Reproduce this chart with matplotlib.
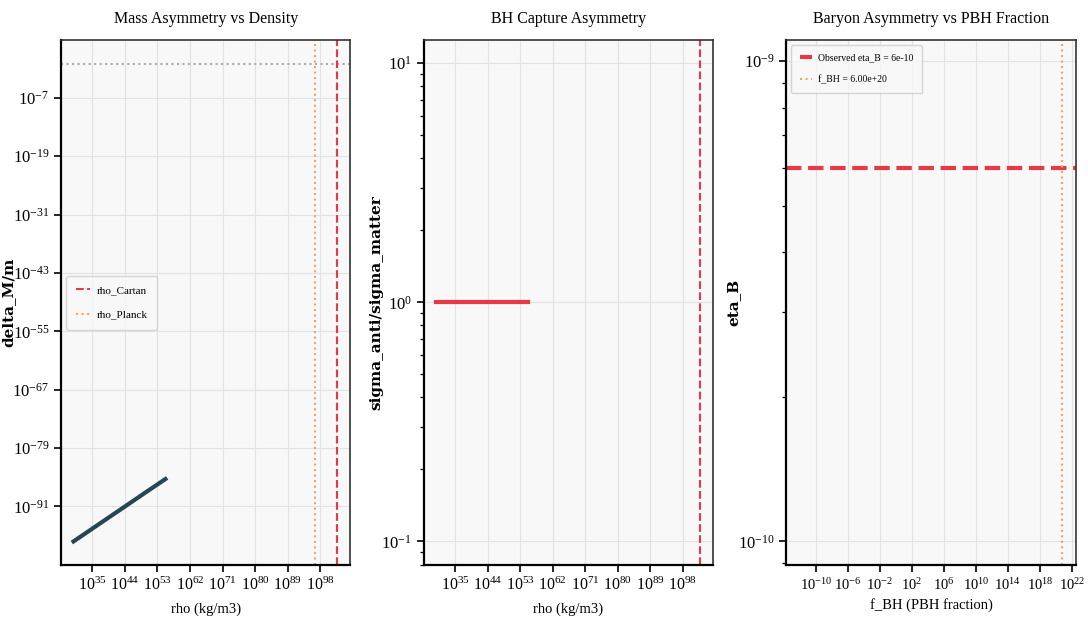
import numpy as np
import matplotlib
matplotlib.use("Agg")
import matplotlib.pyplot as plt
from matplotlib.ticker import NullLocator, NullFormatter, LogLocator

# data
rho_vals = [6e29, 1e35, 1e40, 1e45, 1e50, 1.6e55]          # kg/m3
delta_m = [6e-99, 2.6e-96, 8.7e-94, 2.9e-91, 1e-88, 4e-86]  # delta_M/m
sigma_ratio = [1.0, 1.0, 1.0, 1.0, 1.0, 1.0]                # sigma_anti/sigma_matter
rho_cartan = 5e102
rho_planck = 5.16e96
eta_obs = 6e-10
f_bh = 6.0e20

x1_ticks = [1e35, 1e44, 1e53, 1e62, 1e71, 1e80, 1e89, 1e98]
y1_ticks = [1e-91, 1e-79, 1e-67, 1e-55, 1e-43, 1e-31, 1e-19, 1e-7]
x3_ticks = [1e-10, 1e-6, 1e-2, 1e2, 1e6, 1e10, 1e14, 1e18, 1e22]

RED = "#e63946"
ORANGE = "#f4a261"
DARK = "#264653"

plt.rcParams.update({
    "font.family": ["Liberation Serif", "DejaVu Serif"],
    "mathtext.fontset": "custom",
    "mathtext.rm": "Liberation Serif",
    "mathtext.it": "Liberation Serif:italic",
    "mathtext.bf": "Liberation Serif:bold",
    "axes.facecolor": "#f8f8f8",
    "xtick.labelsize": 11.5,
    "ytick.labelsize": 12,
})

fig, axes = plt.subplots(1, 3, figsize=(10.88, 6.35), dpi=100)
fig.subplots_adjust(left=0.056, right=0.989, bottom=0.11, top=0.937, wspace=0.253)


def style(ax):
    ax.grid(True, which="major", color="#e2e2e2", linewidth=0.8)
    ax.set_axisbelow(True)
    for side in ["top", "right"]:
        ax.spines[side].set_color("#333333")
        ax.spines[side].set_linewidth(1.2)
    for side in ["left", "bottom"]:
        ax.spines[side].set_color("black")
        ax.spines[side].set_linewidth(1.6)
    ax.tick_params(which="major", length=5, width=1.2, direction="out")
    ax.tick_params(which="minor", length=3, width=0.9, direction="out")


ylab = dict(family="DejaVu Serif", fontsize=11, fontweight="bold")
leg_kw = dict(handlelength=1.2, handletextpad=0.6, labelspacing=1.3, borderpad=0.9)

# panel 1: mass asymmetry
ax = axes[0]
ax.loglog(rho_vals, delta_m, color=DARK, lw=3)
ax.axhline(1.0, color="#aaaaaa", ls=":", lw=1.5)
ax.axvline(rho_cartan, color=RED, ls="--", lw=1.5, label="rho_Cartan")
ax.axvline(rho_planck, color=ORANGE, ls=":", lw=1.5, label="rho_Planck")
ax.set_xlim(10**26.3, 10**106.4)
ax.set_ylim(10**-103.1, 10**4.9)
ax.set_xticks(x1_ticks)
ax.set_yticks(y1_ticks)
ax.xaxis.set_minor_locator(NullLocator())
ax.yaxis.set_minor_locator(NullLocator())
ax.set_title("Mass Asymmetry vs Density", fontsize=11.5, pad=12)
ax.set_xlabel("rho (kg/m3)", fontsize=10.5, labelpad=6)
ax.set_ylabel("delta_M/m", **ylab)
ax.yaxis.set_label_coords(-0.156, 0.5)
ax.legend(loc="center left", fontsize=8, **leg_kw)
style(ax)

# panel 2: capture asymmetry
ax = axes[1]
ax.loglog(rho_vals, sigma_ratio, color=RED, lw=3)
ax.axvline(rho_cartan, color=RED, ls="--", lw=1.5)
ax.set_xlim(10**26.3, 10**106.4)
ax.set_ylim(0.0796, 12.5)
ax.set_xticks(x1_ticks)
ax.xaxis.set_minor_locator(NullLocator())
ax.yaxis.set_minor_locator(LogLocator(base=10, subs=np.arange(2, 10)))
ax.yaxis.set_minor_formatter(NullFormatter())
ax.set_title("BH Capture Asymmetry", fontsize=11.5, pad=12)
ax.set_xlabel("rho (kg/m3)", fontsize=10.5, labelpad=6)
ax.set_ylabel("sigma_anti/sigma_matter", **ylab)
ax.yaxis.set_label_coords(-0.138, 0.5)
style(ax)

# panel 3: baryon asymmetry
ax = axes[2]
ax.set_xscale("log")
ax.set_yscale("log")
ax.axhline(eta_obs, color=RED, ls="--", lw=3, label="Observed eta_B = 6e-10")
ax.axvline(f_bh, color=ORANGE, ls=":", lw=1.5, label=f"f_BH = {f_bh:.2e}")
ax.set_xlim(10**-13.65, 10**22.5)
ax.set_ylim(8.92e-11, 1.106e-9)
ax.set_xticks(x3_ticks)
ax.xaxis.set_minor_locator(NullLocator())
ax.yaxis.set_minor_locator(LogLocator(base=10, subs=np.arange(2, 10)))
ax.yaxis.set_minor_formatter(NullFormatter())
ax.tick_params(axis="x", labelsize=10.5)
ax.set_title("Baryon Asymmetry vs PBH Fraction", fontsize=11.5, pad=12)
ax.set_xlabel("f_BH (PBH fraction)", fontsize=10.5, labelpad=4)
ax.set_ylabel("eta_B", **ylab)
ax.yaxis.set_label_coords(-0.159, 0.5)
ax.legend(loc="upper left", fontsize=7, **leg_kw)
style(ax)

fig.savefig("out.png", dpi=100)
